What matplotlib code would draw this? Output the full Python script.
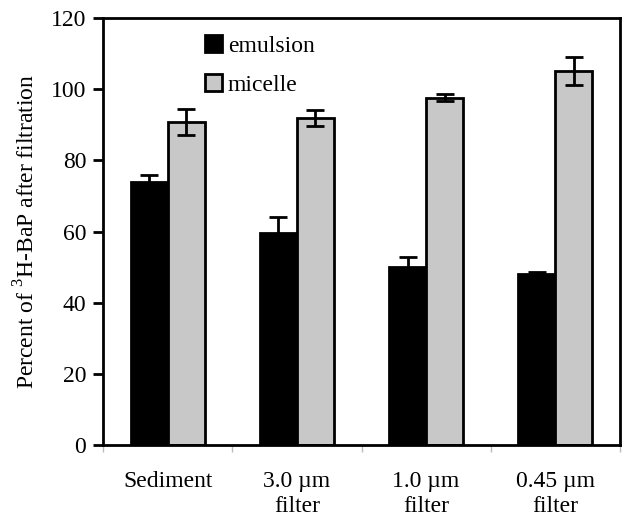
import numpy as np
import matplotlib
matplotlib.use('Agg')
import matplotlib.pyplot as plt
from matplotlib.ticker import FixedLocator

plt.rcParams['font.family'] = ['Liberation Serif', 'DejaVu Serif']
plt.rcParams['mathtext.fontset'] = 'custom'
plt.rcParams['mathtext.rm'] = 'Liberation Serif'

categories = ['Sediment', '3.0 \u00b5m\nfilter', '1.0 \u00b5m\nfilter', '0.45 \u00b5m\nfilter']
emulsion = [73.9, 59.5, 49.9, 48.0]
emulsion_err = [1.9, 4.5, 3.0, 0.6]
micelle = [90.7, 91.9, 97.6, 105.1]
micelle_err = [3.7, 2.3, 1.0, 4.0]
yticks = [0, 20, 40, 60, 80, 100, 120]

fs = 17
fig = plt.figure(figsize=(6.22, 5.2), dpi=100)
ax = fig.add_axes([103 / 622, 75 / 520, 517 / 622, 427 / 520])

x = np.arange(len(categories))
w = 0.287
err_kw = dict(ecolor='black', elinewidth=2, capsize=6.5, capthick=2)
ax.bar(x - w / 2, emulsion, w, yerr=emulsion_err, color='black',
       edgecolor='black', linewidth=2, label='emulsion', error_kw=err_kw)
ax.bar(x + w / 2, micelle, w, yerr=micelle_err, color='#c8c8c8',
       edgecolor='black', linewidth=2, label='micelle', error_kw=err_kw)

ax.set_xlim(-0.5, len(categories) - 0.5)
ax.set_ylim(0, 120)
ax.set_yticks(yticks)
ax.set_xticks(x)
ax.set_xticklabels(categories, fontsize=fs, linespacing=1.25)
ax.xaxis.set_minor_locator(FixedLocator(np.arange(len(categories) + 1) - 0.5))
ax.tick_params(axis='x', which='major', length=0, pad=19)
ax.tick_params(axis='x', which='minor', length=5, color='#bbbbbb', width=1)
ax.tick_params(axis='y', labelsize=fs, length=7, width=2, pad=5)

for s in ax.spines.values():
    s.set_linewidth(2)

ax.set_ylabel(r'Percent of $^{3}$H-BaP after filtration', fontsize=fs, labelpad=8)

ax.legend(loc='upper left', bbox_to_anchor=(0.198, 0.96), frameon=False,
          fontsize=fs, handlelength=0.7, handleheight=0.7, handletextpad=0.25,
          labelspacing=0.75, borderpad=0, borderaxespad=0)

fig.savefig('out.png', dpi=100)
